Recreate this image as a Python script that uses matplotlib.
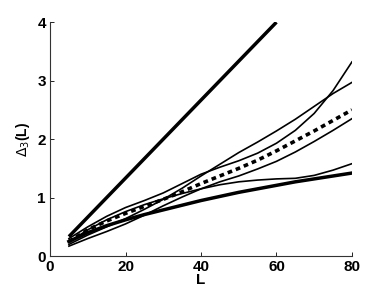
import numpy as np
import matplotlib
matplotlib.use("Agg")
import matplotlib.pyplot as plt

plt.rcParams['font.family'] = ['Liberation Sans', 'DejaVu Sans']

# ---------- data ----------
L = [5, 10, 15, 20, 25, 30, 35, 40, 45, 50, 55, 60, 65, 70, 75, 80]

# thin curves (individual spectra)
curve_a = [0.30, 0.50, 0.68, 0.83, 0.95, 1.08, 1.24, 1.40, 1.52, 1.63, 1.76, 1.93, 2.15, 2.44, 2.83, 3.32]
curve_b = [0.20, 0.36, 0.50, 0.64, 0.80, 0.97, 1.16, 1.37, 1.57, 1.77, 1.95, 2.14, 2.34, 2.56, 2.78, 2.97]
curve_c = [0.17, 0.30, 0.42, 0.55, 0.70, 0.86, 1.01, 1.15, 1.27, 1.37, 1.49, 1.62, 1.78, 1.96, 2.15, 2.35]
curve_d = [0.24, 0.45, 0.62, 0.76, 0.88, 0.98, 1.07, 1.15, 1.22, 1.27, 1.30, 1.32, 1.33, 1.38, 1.47, 1.58]

# mean (dashed)
mean = [0.25, 0.45, 0.60, 0.73, 0.85, 0.97, 1.10, 1.24, 1.37, 1.50, 1.64, 1.80, 1.97, 2.14, 2.32, 2.50]

# thick reference curves
L_pois = [5, 60]
pois = [5 / 15, 60 / 15]
lower = [0.25, 0.40, 0.52, 0.62, 0.71, 0.79, 0.87, 0.95, 1.02, 1.09, 1.15, 1.21, 1.27, 1.32, 1.37, 1.42]

# ---------- plot ----------
fig = plt.figure(figsize=(3.88, 2.92), dpi=100)
ax = fig.add_axes([0.129, 0.123, 0.778, 0.801])

for c in (curve_a, curve_b, curve_c, curve_d):
    ax.plot(L, c, color='black', lw=1.2)
ax.plot(L, mean, color='black', lw=2.6, linestyle=(0, (1.3, 1.1)))
ax.plot(L_pois, pois, color='black', lw=2.5, solid_capstyle='butt')
ax.plot(L, lower, color='black', lw=2.5)

ax.set_xlim(0, 80)
ax.set_ylim(0, 4)
ax.set_xticks([0, 20, 40, 60, 80])
ax.set_yticks([0, 1, 2, 3, 4])
ax.spines['top'].set_visible(False)
ax.spines['right'].set_visible(False)
for s in ('left', 'bottom'):
    ax.spines[s].set_linewidth(0.8)
    ax.spines[s].set_color('#333333')
ax.tick_params(direction='in', length=3, width=0.6, labelsize=11, pad=3)
for lab in ax.get_xticklabels() + ax.get_yticklabels():
    lab.set_fontweight('bold')
ax.set_xlabel('L', fontsize=11, fontweight='bold', labelpad=-1)
ax.set_ylabel(r'$\Delta_3$(L)', fontsize=10, fontweight='bold', labelpad=4)

fig.savefig('out.png', dpi=100)
